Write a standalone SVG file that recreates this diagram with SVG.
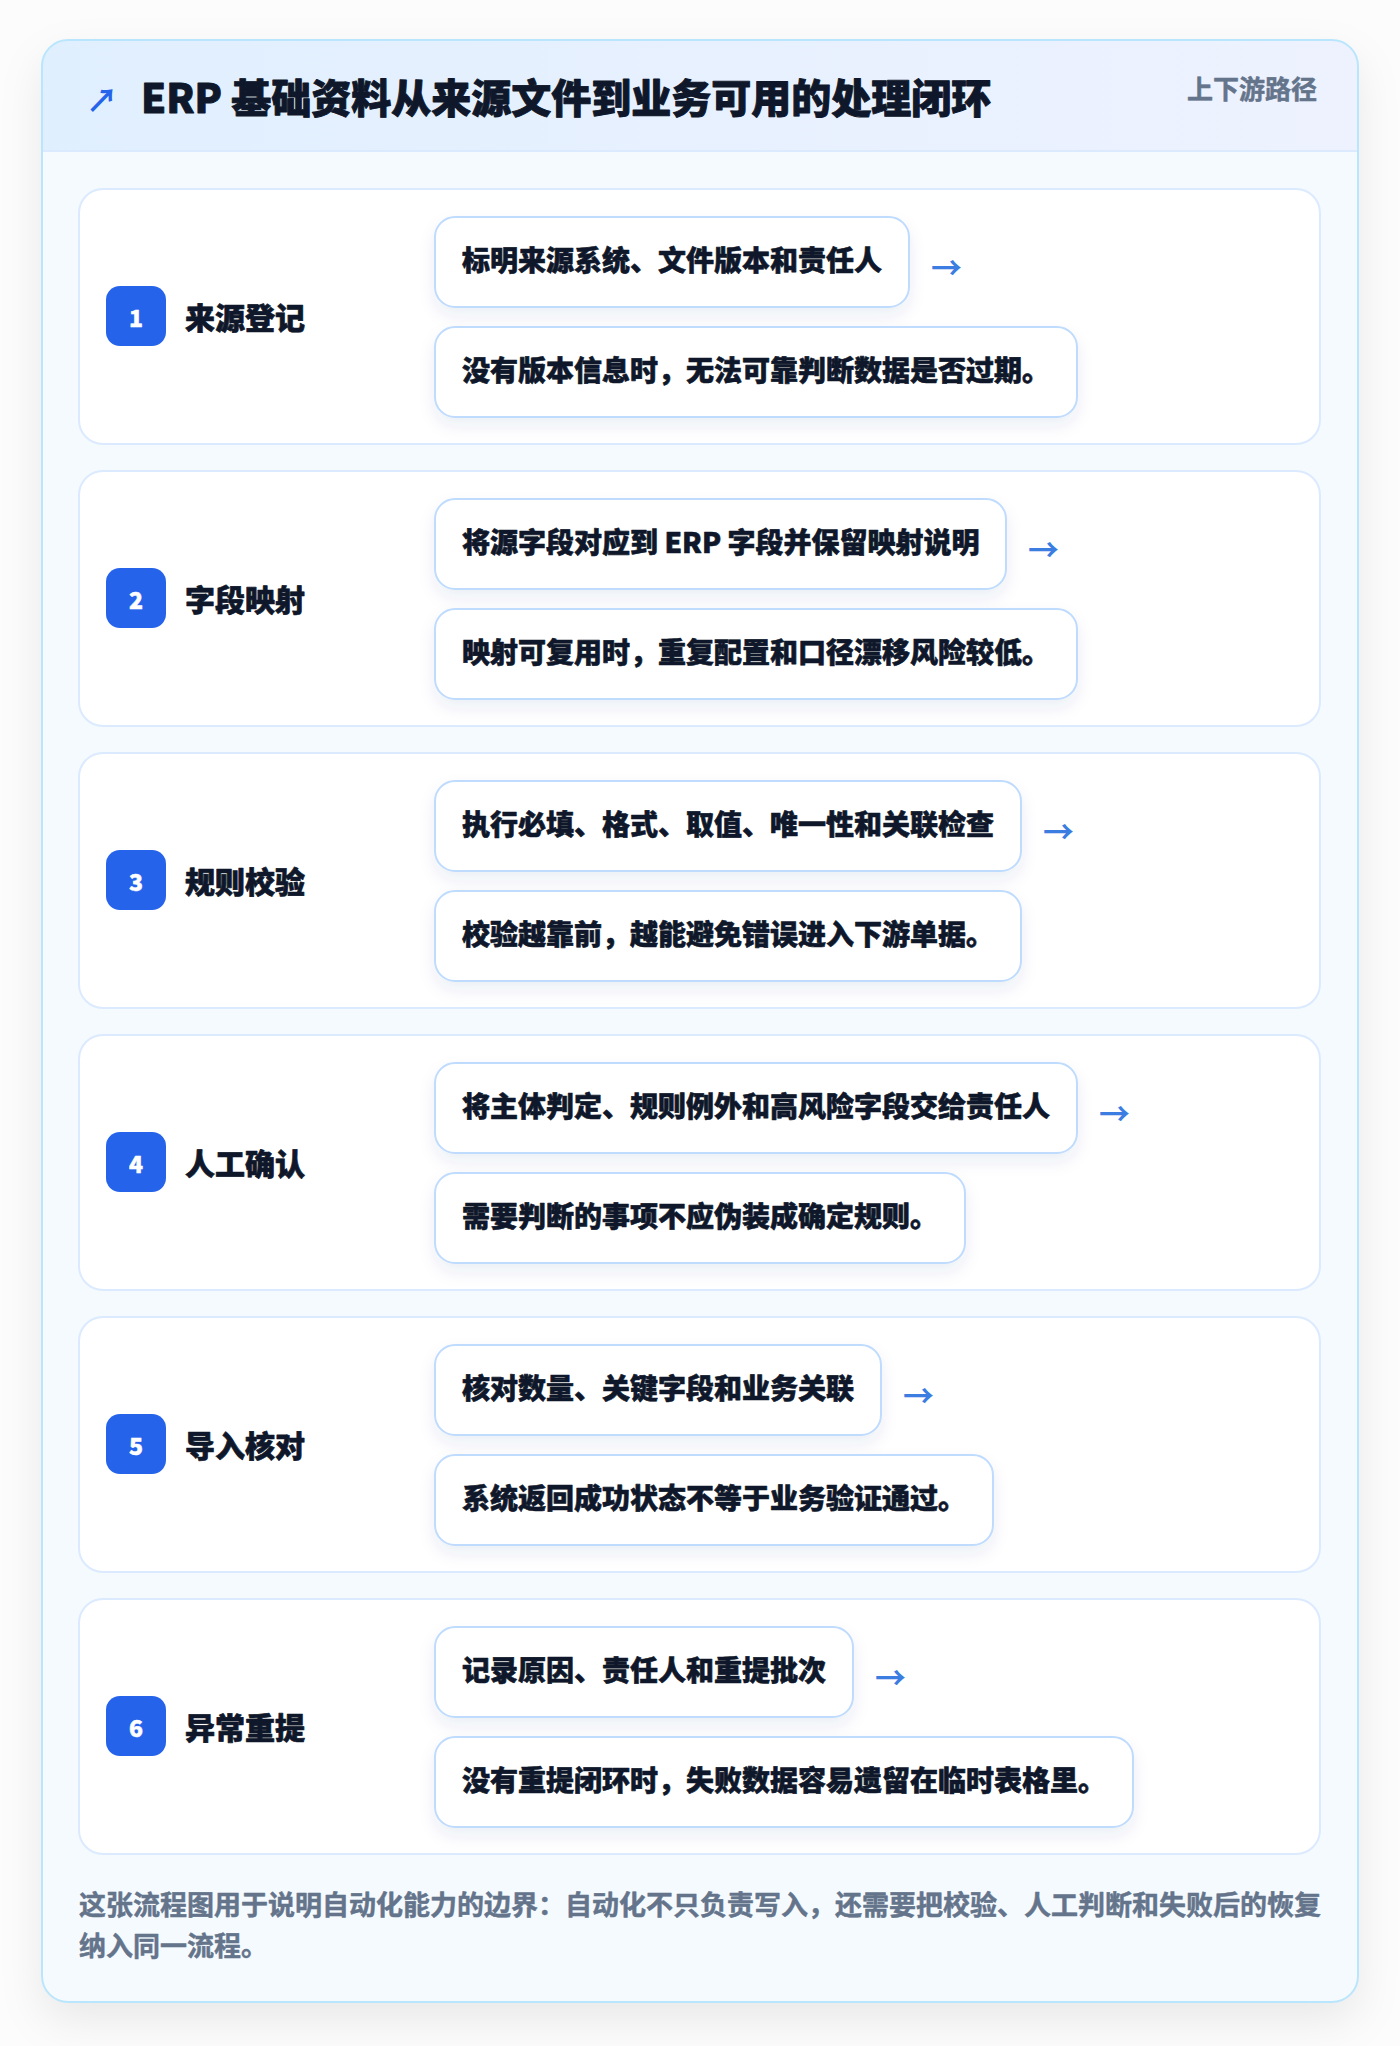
<svg xmlns="http://www.w3.org/2000/svg" width="1400" height="2046" viewBox="0 0 1400 2046">
<defs>
<style>
.f{font-family:"Noto Sans CJK SC","Noto Sans",sans-serif;stroke-linejoin:round;}
.title{font-size:40px;font-weight:900;fill:#0f172a;stroke:#0f172a;stroke-width:0.9;}
.tag{font-size:26px;font-weight:700;fill:#64748b;stroke:#64748b;stroke-width:0.5;}
.card{fill:#ffffff;stroke:#dbeafe;stroke-width:2;}
.badge{fill:#2563eb;}
.num{font-size:23px;font-weight:800;fill:#ffffff;text-anchor:middle;stroke:#ffffff;stroke-width:0.5;}
.label{font-size:30px;font-weight:800;fill:#0f172a;stroke:#0f172a;stroke-width:0.7;}
.box{fill:#ffffff;stroke:#bfdbfe;stroke-width:2;}
.btxt{font-size:28px;font-weight:800;fill:#0f172a;stroke:#0f172a;stroke-width:0.6;}
.arr{font-size:31px;font-weight:700;fill:#3b7de0;}
.foot{font-size:27px;font-weight:700;fill:#64748b;stroke:#64748b;stroke-width:0.5;}
</style>
<linearGradient id="hdr" x1="0" y1="0" x2="1" y2="0">
<stop offset="0" stop-color="#e0effe"/>
<stop offset="1" stop-color="#eef2ff"/>
</linearGradient>
<filter id="outerShadow" x="-10%" y="-10%" width="120%" height="120%">
<feDropShadow dx="0" dy="18" stdDeviation="22" flood-color="#0f172a" flood-opacity="0.08"/>
</filter>
<filter id="boxShadow" x="-10%" y="-20%" width="120%" height="160%">
<feDropShadow dx="0" dy="8" stdDeviation="8" flood-color="#1e3a8a" flood-opacity="0.08"/>
</filter>
<clipPath id="outerClip"><rect x="42" y="40" width="1316" height="1962" rx="26"/></clipPath>
</defs>
<rect x="0" y="0" width="1400" height="2046" fill="#fcfcfd"/>
<g id="frame">
<rect x="42" y="40" width="1316" height="1962" rx="26" fill="#f5faff" filter="url(#outerShadow)"/>
<g clip-path="url(#outerClip)">
<rect x="42" y="40" width="1316" height="111" fill="url(#hdr)"/>
<line x1="42" y1="151" x2="1358" y2="151" stroke="#dbeafe" stroke-width="2"/>
</g>
<rect x="42" y="40" width="1316" height="1962" rx="26" fill="none" stroke="#bae6fd" stroke-width="2"/>
</g>
<g id="header">
<text class="f" x="86" y="112" font-size="32" font-weight="700" fill="#2563eb">↗</text>
<text class="f title" x="141" y="113">ERP 基础资料从来源文件到业务可用的处理闭环</text>
<text class="f tag" x="1317" y="99" text-anchor="end">上下游路径</text>
</g>

<g id="step1">
<rect class="card" x="79" y="189" width="1241" height="255" rx="24"/>
<rect class="badge" x="106" y="286" width="60" height="60" rx="14"/>
<text class="f num" x="136" y="327">1</text>
<text class="f label" x="185" y="329">来源登记</text>
<rect class="box" filter="url(#boxShadow)" x="435" y="217" width="474" height="90" rx="20"/>
<text class="f btxt" x="462" y="271">标明来源系统、文件版本和责任人</text>
<rect class="box" filter="url(#boxShadow)" x="435" y="327" width="642" height="90" rx="20"/>
<text class="f btxt" x="462" y="381">没有版本信息时，无法可靠判断数据是否过期。</text>
</g>
<g id="step2">
<rect class="card" x="79" y="471" width="1241" height="255" rx="24"/>
<rect class="badge" x="106" y="568" width="60" height="60" rx="14"/>
<text class="f num" x="136" y="609">2</text>
<text class="f label" x="185" y="611">字段映射</text>
<rect class="box" filter="url(#boxShadow)" x="435" y="499" width="571" height="90" rx="20"/>
<text class="f btxt" x="462" y="553">将源字段对应到 ERP 字段并保留映射说明</text>
<rect class="box" filter="url(#boxShadow)" x="435" y="609" width="642" height="90" rx="20"/>
<text class="f btxt" x="462" y="663">映射可复用时，重复配置和口径漂移风险较低。</text>
</g>
<g id="step3">
<rect class="card" x="79" y="753" width="1241" height="255" rx="24"/>
<rect class="badge" x="106" y="850" width="60" height="60" rx="14"/>
<text class="f num" x="136" y="891">3</text>
<text class="f label" x="185" y="893">规则校验</text>
<rect class="box" filter="url(#boxShadow)" x="435" y="781" width="586" height="90" rx="20"/>
<text class="f btxt" x="462" y="835">执行必填、格式、取值、唯一性和关联检查</text>
<rect class="box" filter="url(#boxShadow)" x="435" y="891" width="586" height="90" rx="20"/>
<text class="f btxt" x="462" y="945">校验越靠前，越能避免错误进入下游单据。</text>
</g>
<g id="step4">
<rect class="card" x="79" y="1035" width="1241" height="255" rx="24"/>
<rect class="badge" x="106" y="1132" width="60" height="60" rx="14"/>
<text class="f num" x="136" y="1173">4</text>
<text class="f label" x="185" y="1175">人工确认</text>
<rect class="box" filter="url(#boxShadow)" x="435" y="1063" width="642" height="90" rx="20"/>
<text class="f btxt" x="462" y="1117">将主体判定、规则例外和高风险字段交给责任人</text>
<rect class="box" filter="url(#boxShadow)" x="435" y="1173" width="530" height="90" rx="20"/>
<text class="f btxt" x="462" y="1227">需要判断的事项不应伪装成确定规则。</text>
</g>
<g id="step5">
<rect class="card" x="79" y="1317" width="1241" height="255" rx="24"/>
<rect class="badge" x="106" y="1414" width="60" height="60" rx="14"/>
<text class="f num" x="136" y="1455">5</text>
<text class="f label" x="185" y="1457">导入核对</text>
<rect class="box" filter="url(#boxShadow)" x="435" y="1345" width="446" height="90" rx="20"/>
<text class="f btxt" x="462" y="1399">核对数量、关键字段和业务关联</text>
<rect class="box" filter="url(#boxShadow)" x="435" y="1455" width="558" height="90" rx="20"/>
<text class="f btxt" x="462" y="1509">系统返回成功状态不等于业务验证通过。</text>
</g>
<g id="step6">
<rect class="card" x="79" y="1599" width="1241" height="255" rx="24"/>
<rect class="badge" x="106" y="1696" width="60" height="60" rx="14"/>
<text class="f num" x="136" y="1737">6</text>
<text class="f label" x="185" y="1739">异常重提</text>
<rect class="box" filter="url(#boxShadow)" x="435" y="1627" width="418" height="90" rx="20"/>
<text class="f btxt" x="462" y="1681">记录原因、责任人和重提批次</text>
<rect class="box" filter="url(#boxShadow)" x="435" y="1737" width="698" height="90" rx="20"/>
<text class="f btxt" x="462" y="1791">没有重提闭环时，失败数据容易遗留在临时表格里。</text>
</g>

<g id="connectors">
<text class="f arr" x="931" y="279">→</text>
<text class="f arr" x="1028" y="561">→</text>
<text class="f arr" x="1043" y="843">→</text>
<text class="f arr" x="1099" y="1125">→</text>
<text class="f arr" x="903" y="1407">→</text>
<text class="f arr" x="875" y="1689">→</text>
</g>

<g id="footer">
<text class="f foot" x="79" y="1915">这张流程图用于说明自动化能力的边界：自动化不只负责写入，还需要把校验、人工判断和失败后的恢复</text>
<text class="f foot" x="79" y="1956">纳入同一流程。</text>
</g>
</svg>
